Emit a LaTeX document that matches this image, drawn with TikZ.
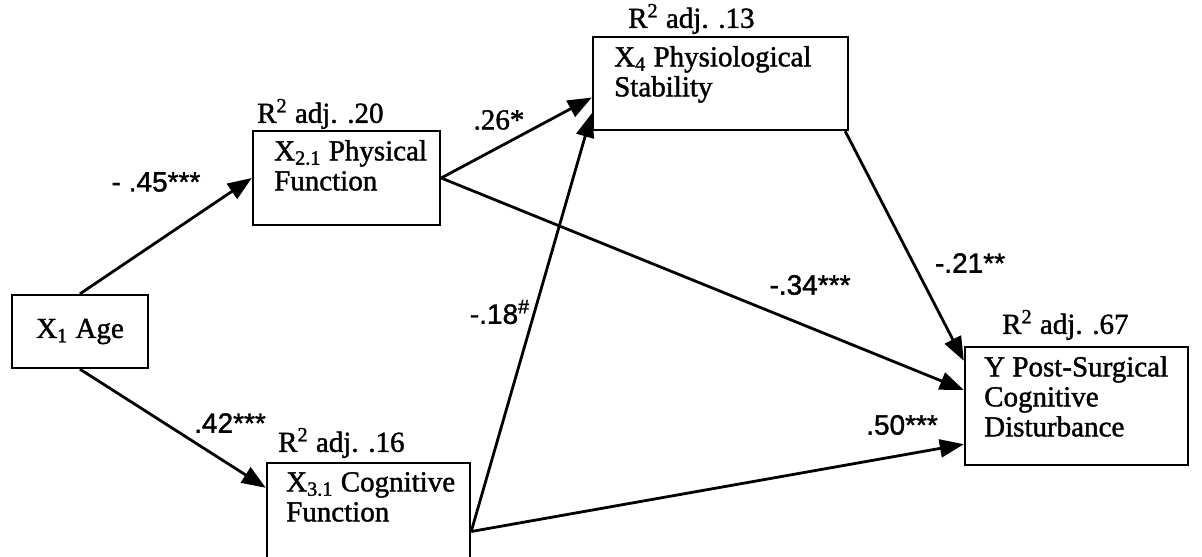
\documentclass[tikz,border=0pt]{standalone}
\usepackage{fontspec}
\setmainfont{Liberation Serif}
\newfontfamily\inkfont[FakeBold=1.4]{Liberation Serif}
\newfontfamily\coeffont[FakeBold=1.4]{Liberation Sans}
\usetikzlibrary{arrows.meta,positioning}
\tikzset{
  varbox/.style={draw, line width=1.2pt, inner sep=0pt},
  boxtext/.style={inner sep=0pt, align=left, anchor=north west, font=\inkfont\fontsize{14.5}{15}\selectfont},
  rsq/.style={inner sep=0pt, anchor=base west, font=\inkfont\fontsize{14.5}{15}\selectfont},
  coef/.style={inner sep=0pt, font=\coeffont\fontsize{14}{15}\selectfont},
  link/.style={line width=1.4pt, -{Triangle[length=12pt, width=9pt]}}
}
\begin{document}
\begin{tikzpicture}[x=0.5pt, y=-0.5pt]
  \useasboundingbox (0,0) rectangle (1202,556);

  \node[varbox, minimum width=68pt, minimum height=36.5pt, font=\inkfont\fontsize{14.5}{15}\selectfont] (x1) at (80,331.5) {X\textsubscript{1} Age};
  \node[varbox, minimum width=93.5pt, minimum height=47pt] (x21) at (346.5,178) {};
  \node[varbox, minimum width=127.5pt, minimum height=46.5pt] (x4) at (720.5,83.5) {};
  \node[varbox, minimum width=101.5pt, minimum height=68.5pt] (x31) at (368.5,531.5) {};
  \node[varbox, minimum width=111.5pt, minimum height=59pt] (y) at (1076.5,406) {};

  \node[boxtext, below right=5pt and 11pt of x21.north west] (t21) {X\textsubscript{2.1} Physical\\Function};
  \node[boxtext, below right=5pt and 11pt of x4.north west] (t4) {X\textsubscript{4} Physiological\\Stability};
  \node[boxtext, below right=5pt and 10pt of x31.north west] (t31) {X\textsubscript{3.1} Cognitive\\Function};
  \node[boxtext, below right=5pt and 10pt of y.north west] (ty) {Y Post-Surgical\\Cognitive\\Disturbance};

  \node[rsq] (r21) at ([xshift=2.5pt, yshift=3.5pt]x21.north west) {R\textsuperscript{2} adj. .20};
  \node[rsq] (r4) at ([xshift=18pt, yshift=4pt]x4.north west) {R\textsuperscript{2} adj. .13};
  \node[rsq] (r31) at ([xshift=6pt, yshift=5pt]x31.north west) {R\textsuperscript{2} adj. .16};
  \node[rsq] (ry) at ([xshift=19pt, yshift=6pt]y.north west) {R\textsuperscript{2} adj. .67};

  \draw[link] (x1.north) -- (x21.west);
  \draw[link] (x1.south) -- ([yshift=-13pt]x31.north west);
  \draw[link] (x21.east) -- ([yshift=-7pt]x4.west);
  \draw[link] (x31.east) -- ([yshift=9pt]x4.south west);
  \draw[link] (x21.east) -- ([yshift=8pt]y.west);
  \draw[link] (x31.east) -- ([yshift=11pt]y.south west);
  \draw[link] ([xshift=-2pt]x4.south east) -- ([yshift=-7.5pt]y.north west);

  \node[coef] (c45) at (156,182) {- .45***};
  \node[coef] (c42) at (230,423) {.42***};
  \node[coef, font=\inkfont\fontsize{14.5}{15}\selectfont] (c26) at (499,120) {.26*};
  \node[coef] (c18) at (500,312) {-.18\textsuperscript{\#}};
  \node[coef] (c34) at (810,285) {-.34***};
  \node[coef] (c21) at (970,263) {-.21**};
  \node[coef] (c50) at (902,425) {.50***};
\end{tikzpicture}
\end{document}
